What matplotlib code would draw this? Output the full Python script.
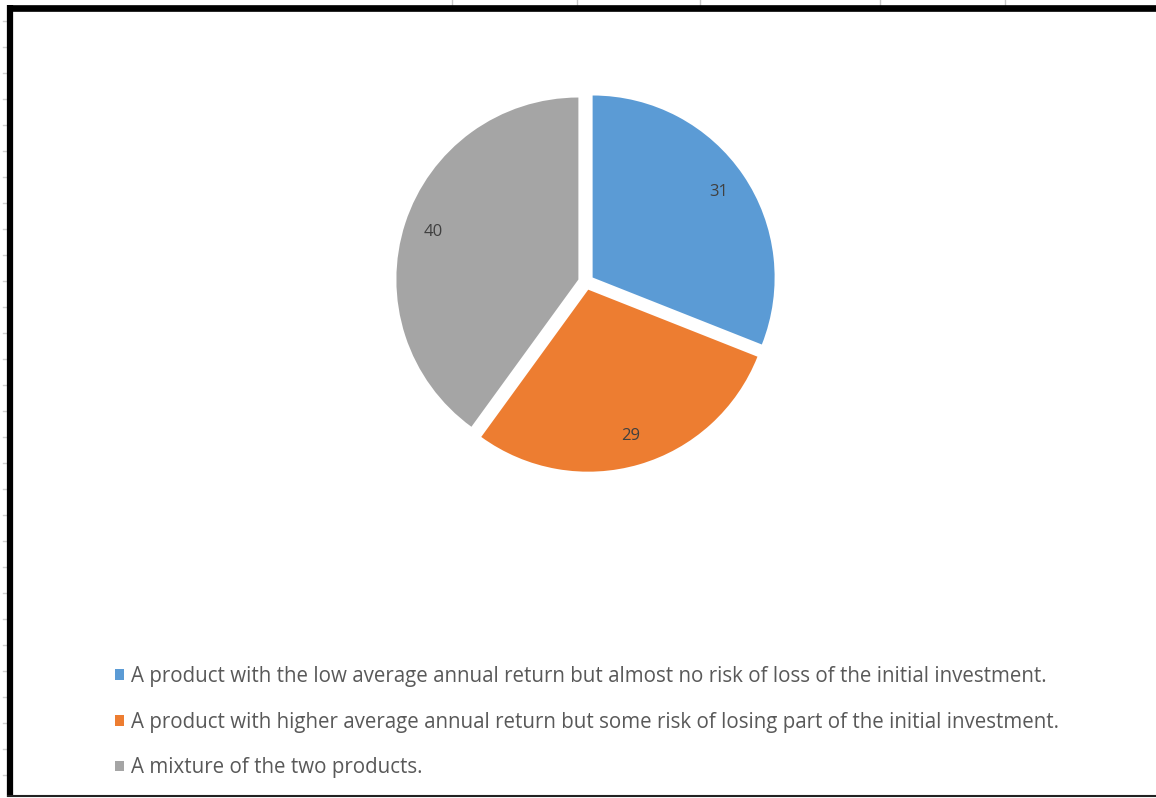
import matplotlib
matplotlib.use("Agg")
import matplotlib.pyplot as plt
from matplotlib.lines import Line2D

categories = [
    "A product with the low average annual return but almost no risk of loss of the initial investment.",
    "A product with higher average annual return but some risk of losing part of the initial investment.",
    "A mixture of the two products.",
]
values = [31, 29, 40]
colors = ["#5B9BD5", "#ED7D31", "#A5A5A5"]

W, H = 1156, 798
fig = plt.figure(figsize=(W / 100, H / 100), dpi=100)
ax = fig.add_axes([0, 0, 1, 1])

# pixel-like data space, y measured upward
cx, cy, R = 586, H - 282, 182
wedges, texts, autotexts = ax.pie(
    values, colors=colors, startangle=90, counterclock=False,
    center=(cx, cy), radius=R, explode=[8, 8, 8],
    autopct=lambda p: f"{p:.0f}", pctdistance=0.84,
    textprops=dict(color="#404040", fontsize=12, family="Open Sans"),
    wedgeprops=dict(linewidth=0),
)
ax.set_xlim(0, W)
ax.set_ylim(0, H)
ax.set_aspect("equal")
ax.axis("off")

leg = ax.legend(
    wedges, categories, loc="upper left",
    bbox_to_anchor=(115 / W, 1 - 666 / H), bbox_transform=fig.transFigure,
    frameon=False, prop=dict(family="Open Sans", size=14.8),
    handlelength=0.42, handleheight=0.42, handletextpad=0.36,
    labelspacing=1.2, borderaxespad=0, borderpad=0,
)
for t in leg.get_texts():
    t.set_color("#595959")

# worksheet frame around the chart
def fx(x):
    return x / W

def fy(y):
    return 1 - y / H

for x in [452, 577, 700, 880, 1005]:
    fig.add_artist(Line2D([fx(x), fx(x)], [fy(0), fy(5)], color="#c8c8c8", lw=1))
for y in range(21, 798, 26):
    fig.add_artist(Line2D([fx(3), fx(6)], [fy(y), fy(y)], color="#d0d0d0", lw=1))
fig.add_artist(Line2D([fx(7), fx(W)], [fy(7.5), fy(7.5)], color="black", lw=4.8,
                      solid_capstyle="butt"))
fig.add_artist(Line2D([fx(10), fx(10)], [fy(5), fy(797)], color="black", lw=4.5,
                      solid_capstyle="butt"))
fig.add_artist(Line2D([fx(7), fx(W)], [fy(796), fy(796)], color="#222222", lw=1.5,
                      solid_capstyle="butt"))

fig.savefig("out.png", dpi=100, facecolor="white")
